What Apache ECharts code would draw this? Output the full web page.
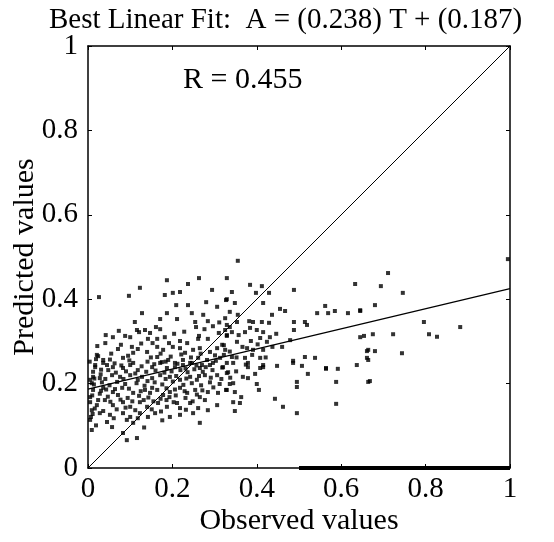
<!DOCTYPE html>
<html><head><meta charset="utf-8">
<script src="https://cdn.jsdelivr.net/npm/echarts@6/dist/echarts.min.js"></script>
<style>html,body{margin:0;padding:0;background:#fff}#c{width:554px;height:542px}</style>
</head><body><div id="c"></div>
<script>
const titleText = 'Best Linear Fit:  A = (0.238) T + (0.187)';
const rText = 'R = 0.455';
const xName = 'Observed values';
const yName = 'Predicted values';
const fitSlope = 0.238;
const fitIntercept = 0.187;
const zeroRunX = [0.5, 1];

const pointsRight = [[0.711,0.462],[0.694,0.431],[0.746,0.415],[0.680,0.386],[0.645,0.372],[0.995,0.495],[0.796,0.346],[0.882,0.334],[0.808,0.317],[0.827,0.311],[0.723,0.317],[0.675,0.317],[0.654,0.313],[0.661,0.277],[0.680,0.277],[0.661,0.261],[0.744,0.272],[0.668,0.206]];
const pointsMidLow = [[0.320,0.239],[0.344,0.249],[0.332,0.227],[0.379,0.239],[0.408,0.237],[0.415,0.244],[0.448,0.242],[0.486,0.249],[0.507,0.242],[0.521,0.223],[0.564,0.235],[0.592,0.235],[0.588,0.204],[0.664,0.204],[0.344,0.201],[0.336,0.199],[0.327,0.185],[0.348,0.180],[0.367,0.216],[0.379,0.213],[0.396,0.223],[0.400,0.199],[0.405,0.185],[0.495,0.204],[0.495,0.192],[0.363,0.168],[0.344,0.156],[0.360,0.154],[0.348,0.135],[0.443,0.164],[0.462,0.145],[0.495,0.130],[0.588,0.152]];
const pointsMidHigh = [[0.355,0.491],[0.329,0.450],[0.384,0.434],[0.412,0.431],[0.398,0.415],[0.429,0.415],[0.341,0.417],[0.327,0.398],[0.348,0.391],[0.415,0.391],[0.488,0.422],[0.633,0.436],[0.562,0.384],[0.543,0.367],[0.569,0.367],[0.585,0.372],[0.616,0.367],[0.645,0.374],[0.336,0.370],[0.355,0.363],[0.325,0.355],[0.353,0.346],[0.382,0.348],[0.391,0.346],[0.412,0.346],[0.429,0.344],[0.455,0.377],[0.467,0.372],[0.436,0.363],[0.488,0.346],[0.514,0.346],[0.519,0.339],[0.488,0.327],[0.384,0.332],[0.400,0.327],[0.415,0.322],[0.336,0.334],[0.341,0.322],[0.325,0.327],[0.408,0.308],[0.431,0.310],[0.424,0.299],[0.353,0.299],[0.322,0.291],[0.377,0.284],[0.391,0.280],[0.415,0.280],[0.341,0.263],[0.372,0.261],[0.408,0.261],[0.379,0.249],[0.415,0.239],[0.514,0.263],[0.538,0.261],[0.486,0.254],[0.564,0.237],[0.637,0.244],[0.664,0.280],[0.645,0.310],[0.664,0.256],[0.479,0.303],[0.460,0.287],[0.329,0.315]];
const pointsLeftHigh = [[0.187,0.445],[0.123,0.427],[0.097,0.408],[0.026,0.405],[0.237,0.436],[0.263,0.450],[0.182,0.410],[0.201,0.415],[0.218,0.417],[0.294,0.422],[0.280,0.393],[0.306,0.382],[0.329,0.400],[0.209,0.386],[0.237,0.386],[0.187,0.367],[0.128,0.367],[0.171,0.353],[0.211,0.353],[0.246,0.367],[0.254,0.346],[0.256,0.334],[0.273,0.363],[0.284,0.348],[0.329,0.339],[0.111,0.346],[0.116,0.327],[0.161,0.334],[0.171,0.329],[0.121,0.322],[0.135,0.327],[0.147,0.320],[0.059,0.310],[0.088,0.313],[0.100,0.310],[0.142,0.306],[0.164,0.306],[0.182,0.310],[0.192,0.296],[0.218,0.301],[0.235,0.296],[0.261,0.306],[0.263,0.313],[0.284,0.306],[0.310,0.320],[0.329,0.313],[0.071,0.282],[0.104,0.287],[0.118,0.282],[0.107,0.273],[0.140,0.275],[0.164,0.287],[0.178,0.280],[0.201,0.287],[0.218,0.284],[0.230,0.273],[0.249,0.280],[0.265,0.284],[0.289,0.275],[0.306,0.284],[0.325,0.280],[0.024,0.265],[0.036,0.256],[0.017,0.244],[0.045,0.244],[0.083,0.261],[0.100,0.244],[0.164,0.263],[0.175,0.251],[0.190,0.256],[0.206,0.249],[0.225,0.256],[0.242,0.249],[0.261,0.261],[0.270,0.244],[0.282,0.256],[0.296,0.249],[0.313,0.261],[0.329,0.249]];
const pointsLeftLow = [[0.017,0.239],[0.036,0.249],[0.059,0.239],[0.083,0.237],[0.107,0.249],[0.118,0.232],[0.152,0.239],[0.171,0.249],[0.187,0.237],[0.206,0.239],[0.225,0.244],[0.246,0.249],[0.265,0.237],[0.289,0.244],[0.306,0.220],[0.329,0.225],[0.005,0.209],[0.028,0.213],[0.057,0.220],[0.076,0.216],[0.100,0.220],[0.128,0.216],[0.152,0.213],[0.171,0.220],[0.194,0.216],[0.218,0.209],[0.242,0.216],[0.258,0.209],[0.277,0.220],[0.012,0.185],[0.036,0.190],[0.059,0.180],[0.081,0.190],[0.107,0.178],[0.135,0.185],[0.147,0.178],[0.164,0.185],[0.178,0.173],[0.194,0.180],[0.218,0.190],[0.235,0.178],[0.254,0.185],[0.265,0.168],[0.284,0.180],[0.308,0.178],[0.329,0.185],[0.005,0.156],[0.021,0.149],[0.040,0.161],[0.059,0.149],[0.083,0.156],[0.100,0.145],[0.123,0.156],[0.140,0.145],[0.166,0.154],[0.187,0.145],[0.211,0.154],[0.218,0.142],[0.242,0.154],[0.261,0.142],[0.284,0.137],[0.306,0.149],[0.009,0.137],[0.028,0.130],[0.052,0.126],[0.083,0.130],[0.100,0.121],[0.123,0.130],[0.159,0.130],[0.194,0.121],[0.218,0.126],[0.249,0.130],[0.005,0.114],[0.045,0.109],[0.092,0.114],[0.107,0.107],[0.265,0.107],[0.009,0.090],[0.083,0.083],[0.116,0.071],[0.092,0.066],[0.021,0.268],[0.012,0.216],[0.009,0.201],[0.005,0.168],[0.007,0.121]];
const pointsCore = [[0.012,0.228],[0.030,0.222],[0.048,0.232],[0.066,0.226],[0.090,0.229],[0.112,0.224],[0.138,0.228],[0.160,0.231],[0.181,0.226],[0.198,0.229],[0.219,0.232],[0.236,0.227],[0.252,0.234],[0.272,0.228],[0.295,0.232],[0.318,0.238],[0.014,0.198],[0.033,0.203],[0.051,0.196],[0.069,0.204],[0.088,0.199],[0.115,0.201],[0.134,0.195],[0.158,0.203],[0.176,0.198],[0.201,0.205],[0.226,0.197],[0.246,0.201],[0.268,0.196],[0.289,0.203],[0.312,0.199],[0.010,0.172],[0.028,0.176],[0.047,0.169],[0.071,0.173],[0.094,0.166],[0.121,0.171],[0.143,0.167],[0.172,0.164],[0.193,0.168],[0.208,0.172],[0.231,0.166],[0.258,0.174],[0.277,0.161],[0.016,0.141],[0.036,0.135],[0.068,0.139],[0.089,0.143],[0.112,0.137],[0.151,0.139],[0.173,0.134],[0.232,0.138],[0.022,0.289],[0.041,0.296],[0.055,0.271],[0.078,0.292],[0.095,0.266],[0.126,0.295],[0.149,0.262],[0.172,0.271],[0.196,0.264],[0.221,0.269],[0.244,0.262],[0.267,0.271],[0.301,0.267],[0.318,0.292],[0.042,0.315],[0.073,0.325],[0.153,0.296],[0.204,0.318],[0.228,0.323],[0.276,0.329],[0.296,0.336],[0.311,0.345]];
const pointsCore2 = [[0.004,0.252],[0.019,0.258],[0.031,0.233],[0.052,0.257],[0.063,0.248],[0.079,0.243],[0.098,0.255],[0.127,0.241],[0.141,0.252],[0.157,0.246],[0.184,0.252],[0.212,0.247],[0.231,0.236],[0.257,0.243],[0.279,0.239],[0.303,0.254],[0.322,0.268],[0.336,0.276],[0.352,0.262],[0.366,0.287],[0.374,0.245],[0.389,0.268],[0.402,0.293],[0.421,0.262],[0.437,0.287],[0.446,0.318],[0.372,0.322],[0.357,0.315],[0.386,0.301],[0.031,0.183],[0.043,0.186],[0.064,0.187],[0.097,0.188],[0.125,0.182],[0.152,0.190],[0.186,0.189],[0.206,0.186],[0.229,0.182],[0.271,0.184],[0.297,0.191],[0.316,0.211],[0.337,0.214],[0.351,0.229],[0.015,0.212],[0.041,0.211],[0.084,0.211],[0.118,0.209],[0.141,0.206],[0.184,0.211],[0.209,0.218],[0.233,0.212],[0.263,0.218],[0.291,0.214],[0.024,0.161],[0.053,0.157],[0.077,0.162],[0.105,0.158],[0.132,0.161],[0.155,0.158],[0.186,0.161],[0.203,0.156],[0.248,0.158],[0.011,0.128],[0.061,0.118],[0.118,0.118],[0.142,0.121],[0.176,0.113],[0.019,0.101],[0.057,0.097],[0.133,0.096]];

const allPoints = [].concat(pointsRight, pointsMidLow, pointsMidHigh, pointsLeftHigh, pointsLeftLow, pointsCore, pointsCore2);
const fitLine = [[0, fitIntercept], [1, fitIntercept + fitSlope]];
const diagLine = [[0, 0], [1, 1]];
const zeroRun = zeroRunX.map(x => [x, 0]);

const FONT = 'Liberation Serif';
const chart = echarts.init(document.getElementById('c'), null, {renderer: 'canvas'});
const axBase = {
  min: 0, max: 1, interval: 0.2,
  axisLine: {show: true, onZero: false, lineStyle: {color: '#000', width: 1.5}},
  axisTick: {show: true, inside: true, length: 4, lineStyle: {color: '#000', width: 1}},
  splitLine: {show: false},
  axisLabel: {show: false}
};
const labelStyle = {show: true, color: '#000', fontFamily: FONT, fontSize: 29, formatter: v => String(+v.toFixed(1))};
chart.setOption({
  animation: false,
  backgroundColor: '#fff',
  title: {text: titleText, left: 44, top: 1, textStyle: {fontFamily: FONT, fontSize: 29, fontWeight: 'normal', color: '#000'}},
  grid: {left: 88, right: 44, top: 46, bottom: 74, containLabel: false, outerBoundsMode: 'none'},
  xAxis: [
    Object.assign({}, axBase, {type: 'value', position: 'bottom', name: xName, nameLocation: 'middle', nameGap: 38, nameMoveOverlap: false,
      nameTextStyle: {fontFamily: FONT, fontSize: 30, color: '#000'}, axisLabel: Object.assign({}, labelStyle, {margin: 7})}),
    Object.assign({}, axBase, {type: 'value', position: 'top'})
  ],
  yAxis: [
    Object.assign({}, axBase, {type: 'value', position: 'left', name: yName, nameLocation: 'middle', nameGap: 48, nameMoveOverlap: false,
      nameTextStyle: {fontFamily: FONT, fontSize: 30, color: '#000'}, axisLabel: Object.assign({}, labelStyle, {margin: 10})}),
    Object.assign({}, axBase, {type: 'value', position: 'right'})
  ],
  graphic: [{type: 'text', left: 183, top: 65, style: {text: rText, font: '30px "Liberation Serif"', fill: '#000'}}],
  series: [
    {type: 'scatter', data: allPoints, symbol: 'rect', symbolSize: 4, itemStyle: {color: '#000'}, silent: true},
    {type: 'line', data: diagLine, showSymbol: false, lineStyle: {color: '#000', width: 1}},
    {type: 'line', data: fitLine, showSymbol: false, lineStyle: {color: '#000', width: 1.2}},
    {type: 'line', data: zeroRun, showSymbol: false, lineStyle: {color: '#000', width: 4}}
  ]
});
</script></body></html>
